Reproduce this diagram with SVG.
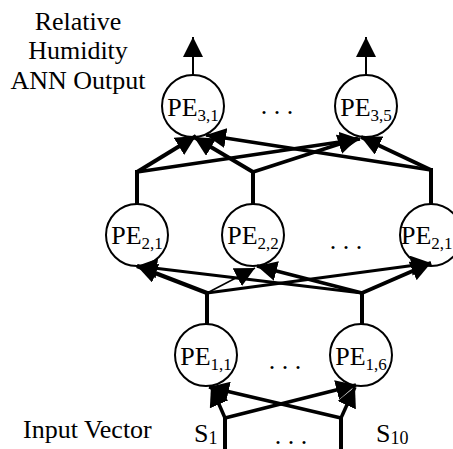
<svg xmlns="http://www.w3.org/2000/svg" width="453" height="449" viewBox="0 0 453 449">
<style>
.c{fill:#fff;stroke:#000;stroke-width:2}
.t{font-family:"Liberation Serif","Times New Roman",serif;font-size:26px;fill:#000}
.sub{font-size:17px}
.ssub{font-size:18px}
.ln{stroke:#000;fill:none;stroke-linecap:butt}
</style>
<defs>
<marker id="ah" markerUnits="userSpaceOnUse" markerWidth="20" markerHeight="20" viewBox="0 0 20 20" refX="20" refY="10" orient="auto">
<path d="M0,0 L20,10 L0,20 z" fill="#000"/>
</marker>
</defs>
<rect width="453" height="449" fill="#fff"/>
<g id="labels">
<text class="t" x="78" y="30" text-anchor="middle">Relative</text>
<text class="t" x="78" y="59" text-anchor="middle">Humidity</text>
<text class="t" x="78" y="89" text-anchor="middle">ANN Output</text>
<text class="t" x="23" y="438">Input Vector</text>
<text class="t" x="194" y="442">S<tspan class="ssub" dy="2">1</tspan></text>
<text class="t" x="376" y="442">S<tspan class="ssub" dy="2">10</tspan></text>
<text class="t" x="277" y="113.5" text-anchor="middle">. . .</text>
<text class="t" x="346" y="248.5" text-anchor="middle">. . .</text>
<text class="t" x="285" y="368.5" text-anchor="middle">. . .</text>
<text class="t" x="291" y="444" text-anchor="middle">. . .</text>
</g>
<g id="node-pe31"><circle class="c" cx="193" cy="106" r="31"/><text class="t" x="193" y="116" text-anchor="middle">PE<tspan class="sub" dy="5">3,1</tspan></text></g>
<g id="node-pe35"><circle class="c" cx="366" cy="106" r="31"/><text class="t" x="366" y="116" text-anchor="middle">PE<tspan class="sub" dy="5">3,5</tspan></text></g>
<g id="node-pe21"><circle class="c" cx="137" cy="235" r="31"/><text class="t" x="137" y="244" text-anchor="middle">PE<tspan class="sub" dy="5">2,1</tspan></text></g>
<g id="node-pe22"><circle class="c" cx="253" cy="235" r="31"/><text class="t" x="253" y="244" text-anchor="middle">PE<tspan class="sub" dy="5">2,2</tspan></text></g>
<g id="node-pe2n"><circle class="c" cx="431" cy="235" r="31"/><text class="t" x="401" y="244">PE<tspan class="sub" dy="5">2,1</tspan></text></g>
<g id="node-pe11"><circle class="c" cx="206" cy="355" r="31"/><text class="t" x="206" y="365" text-anchor="middle">PE<tspan class="sub" dy="5">1,1</tspan></text></g>
<g id="node-pe16"><circle class="c" cx="361" cy="355" r="31"/><text class="t" x="361" y="365" text-anchor="middle">PE<tspan class="sub" dy="5">1,6</tspan></text></g>
<g id="connectors">
<line class="ln" x1="193" y1="75" x2="193" y2="37" stroke-width="2" marker-end="url(#ah)"/>
<line class="ln" x1="366" y1="75" x2="366" y2="37" stroke-width="2" marker-end="url(#ah)"/>
<line class="ln" x1="137" y1="204" x2="137" y2="170" stroke-width="4"/>
<line class="ln" x1="253" y1="204" x2="253" y2="170" stroke-width="4"/>
<line class="ln" x1="431" y1="204" x2="431" y2="168" stroke-width="4"/>
<line class="ln" x1="137" y1="172" x2="196" y2="136" stroke-width="4" marker-end="url(#ah)"/>
<line class="ln" x1="137" y1="172" x2="360" y2="139" stroke-width="3.5" marker-end="url(#ah)"/>
<line class="ln" x1="253" y1="172" x2="194" y2="137" stroke-width="4" marker-end="url(#ah)"/>
<line class="ln" x1="253" y1="172" x2="358" y2="138" stroke-width="3.5" marker-end="url(#ah)"/>
<line class="ln" x1="431" y1="170" x2="206" y2="135" stroke-width="3.5" marker-end="url(#ah)"/>
<line class="ln" x1="431" y1="170" x2="361" y2="137" stroke-width="4" marker-end="url(#ah)"/>
<line class="ln" x1="207" y1="324" x2="207" y2="291" stroke-width="4"/>
<line class="ln" x1="362" y1="324" x2="362" y2="291" stroke-width="4"/>
<line class="ln" x1="207" y1="293" x2="137" y2="266" stroke-width="4.5" marker-end="url(#ah)"/>
<line class="ln" x1="207" y1="293" x2="255" y2="268" stroke-width="1.5" marker-end="url(#ah)"/>
<line class="ln" x1="207" y1="293" x2="431" y2="263" stroke-width="3" marker-end="url(#ah)"/>
<line class="ln" x1="362" y1="293" x2="137" y2="266" stroke-width="3" marker-end="url(#ah)"/>
<line class="ln" x1="362" y1="293" x2="257" y2="266" stroke-width="3.5" marker-end="url(#ah)"/>
<line class="ln" x1="362" y1="293" x2="431" y2="263" stroke-width="4" marker-end="url(#ah)"/>
<line class="ln" x1="225" y1="449" x2="225" y2="416" stroke-width="4"/>
<line class="ln" x1="341" y1="449" x2="341" y2="416" stroke-width="4"/>
<line class="ln" x1="225" y1="418" x2="211" y2="386" stroke-width="3.5" marker-end="url(#ah)"/>
<line class="ln" x1="225" y1="418" x2="356" y2="385" stroke-width="3.5" marker-end="url(#ah)"/>
<line class="ln" x1="341" y1="418" x2="209" y2="387" stroke-width="3.5" marker-end="url(#ah)"/>
<line class="ln" x1="341" y1="418" x2="355" y2="387" stroke-width="3.5" marker-end="url(#ah)"/>
</g>
</svg>
